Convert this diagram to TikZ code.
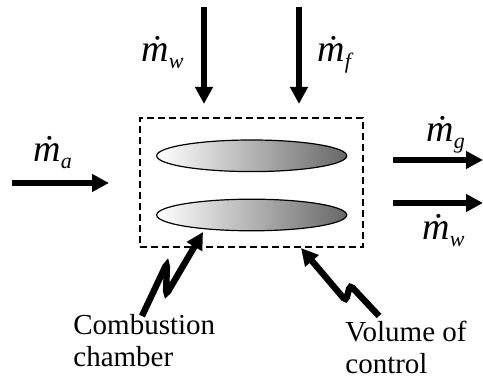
\documentclass[tikz,border=0pt]{standalone}
\usepackage{fontspec}
\setmainfont{Liberation Serif}
\usetikzlibrary{arrows.meta, positioning, calc, shapes.geometric}
\definecolor{cvInk}{HTML}{000000}
\definecolor{cvShade}{HTML}{686868}
\newcommand{\mflow}[1]{{\fontsize{19}{19}\selectfont\itshape \.{m}\raisebox{-3.5pt}{\fontsize{11}{11}\selectfont #1}}}
\tikzset{
  ctrlvol/.style={
    draw=cvInk, line width=1pt, dash pattern=on 3.5pt off 2pt,
    minimum width=111.5pt, minimum height=64.5pt, inner sep=0pt
  },
  flame/.style={
    ellipse, draw=cvInk, line width=0.6pt, inner sep=0pt,
    minimum width=95pt, minimum height=15.8pt,
    left color=white, right color=cvShade
  },
  flow/.style={-{Triangle[length=8.5pt, width=8.5pt]}, line width=3.2pt, draw=cvInk},
  zig/.style={flow, rounded corners=2pt},
  rate/.style={inner sep=0pt, anchor=base west},
  lbl/.style={font=\fontsize{14.5}{16}\selectfont, align=left, inner sep=0pt, anchor=base west},
}
\begin{document}
\begin{tikzpicture}[x=0.5pt, y=-0.5pt]
  \useasboundingbox (0,0) rectangle (483,378);
  \node[ctrlvol] (cv) at (251.5,182.5) {};
  \node[flame] (up) at (251.7,155.8) {};
  \node[flame] (lo) at (251.7,215) {};

  % inflows and outflows
  \coordinate (wIn)  at (204,7);   \coordinate (wEnd) at (204,104);
  \coordinate (fIn)  at (299,7);   \coordinate (fEnd) at (299,104);
  \coordinate (aIn)  at (12,183);  \coordinate (aEnd) at (109,183);
  \coordinate (gOut) at (393,160); \coordinate (gEnd) at (483,160);
  \coordinate (vOut) at (393,203); \coordinate (vEnd) at (483,203);
  \draw[flow] (wIn) -- (wEnd);
  \draw[flow] (fIn) -- (fEnd);
  \draw[flow] (aIn) -- (aEnd);
  \draw[flow] (gOut) -- (gEnd);
  \draw[flow] (vOut) -- (vEnd);

  \node[rate] (mw)  at (141,62)  {\mflow{w}};
  \node[rate] (mf)  at (317,62)  {\mflow{f}};
  \node[rate] (ma)  at (33,162)  {\mflow{a}};
  \node[rate] (mg)  at (426,142) {\mflow{g}};
  \node[rate] (mw2) at (422,240) {\mflow{w}};

  % pointers
  \node[lbl] (comb) at (73,367) {Combustion\\chamber};
  \node[lbl] (vol)  at (345,374) {Volume of\\control};
  \coordinate (cbTail) at (142,316);
  \coordinate (cbTip)  at (203,232);
  \coordinate (vcTail) at (379,316);
  \coordinate (vcTip)  at (301,248);
  \draw[zig] (cbTail) -- (167,263) -- (166,295) -- (cbTip);
  \draw[zig] (vcTail) -- (350,285) -- (346,301) -- (vcTip);
\end{tikzpicture}
\end{document}
